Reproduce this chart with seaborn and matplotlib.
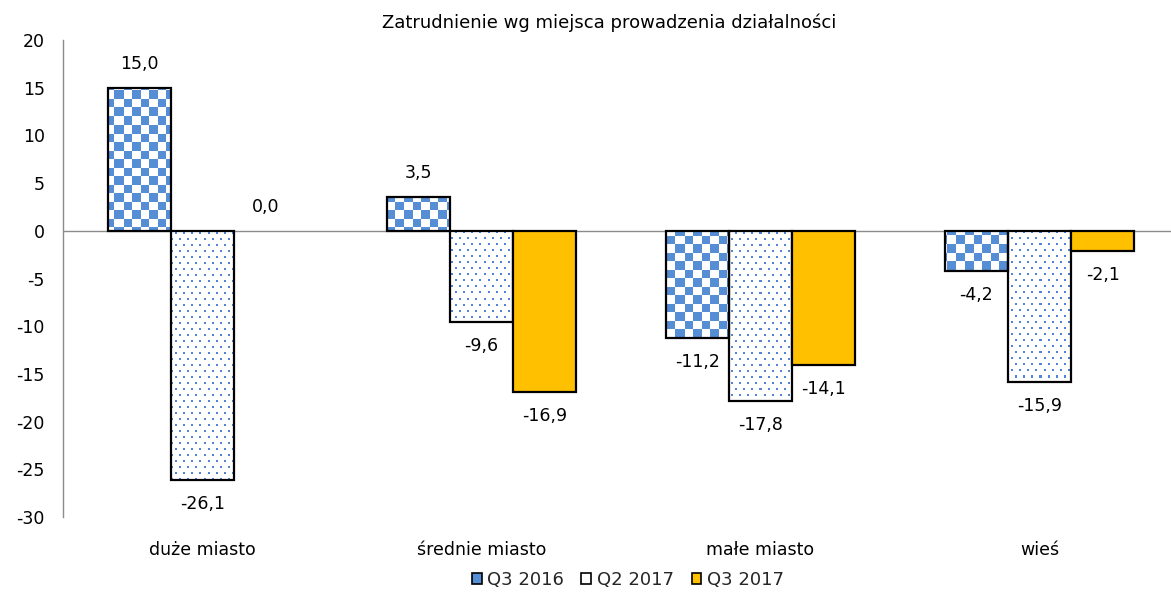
import numpy as np
import pandas as pd
import matplotlib
matplotlib.use("Agg")
import matplotlib.pyplot as plt
import seaborn as sns
from matplotlib.patches import Patch

# ---- data ----
categories = ["duże miasto", "średnie miasto", "małe miasto", "wieś"]
series = ["Q3 2016", "Q2 2017", "Q3 2017"]
q3_2016 = [15.0, 3.5, -11.2, -4.2]
q2_2017 = [-26.1, -9.6, -17.8, -15.9]
q3_2017 = [0.0, -16.9, -14.1, -2.1]
y_ticks = list(range(-30, 25, 5))
title = "Zatrudnienie wg miejsca prowadzenia działalności"

# ---- style ----
BLUE = (85, 142, 213)
DOT_BLUE = (80, 132, 212)
ORANGE = "#FFC000"
AXIS_GRAY = "#8C8C8C"
FS = 12.5
W_PX, H_PX = 1171, 603
AX_L, AX_T, AX_B = 63, 40, 517
CAT_STEP = 279
LABEL_OFF = 24  # px from bar end to label centre

sns.set_theme(style="white")
plt.rcParams["font.family"] = ["DejaVu Sans"]

df = pd.DataFrame({
    "cat": categories * 3,
    "series": [s for s in series for _ in categories],
    "val": q3_2016 + q2_2017 + q3_2017,
})

fig = plt.figure(figsize=(W_PX / 100, H_PX / 100), dpi=100)
ax_w = W_PX - AX_L
ax_h = AX_B - AX_T
ax = fig.add_axes([AX_L / W_PX, 1 - AX_B / H_PX, ax_w / W_PX, ax_h / H_PX])

sns.barplot(data=df, x="cat", y="val", hue="series", hue_order=series,
            order=categories, palette=["white", "white", ORANGE],
            width=0.68, gap=0, edgecolor="black", linewidth=1.6,
            saturation=1, legend=False, ax=ax)

# pixel textures for the patterned series
yy, xx = np.mgrid[0:ax_h, 0:ax_w]
checker = np.full((ax_h, ax_w, 3), 255, dtype=np.uint8)
mask = ((xx // 8.5).astype(int) + (yy // 8.5).astype(int)) % 2 == 0
checker[mask] = BLUE
dots = np.full((ax_h, ax_w, 3), 255, dtype=np.uint8)
dmask = (yy % 6 < 2) & (((xx + 4 * ((yy // 6) % 2)) % 8) < 2)
dots[dmask] = DOT_BLUE
textures = [checker, dots, None]

for i, cont in enumerate(ax.containers):
    for bar in cont.patches:
        bar.set_zorder(2)
        if bar.get_height() == 0:
            bar.set_linewidth(0)
        if textures[i] is not None:
            bar.set_facecolor("none")
            im = ax.imshow(textures[i], extent=(0, 1, 0, 1), transform=ax.transAxes,
                           interpolation="nearest", aspect="auto", zorder=1.5)
            im.set_clip_path(bar)

# value labels
vals = [q3_2016, q2_2017, q3_2017]
for i, cont in enumerate(ax.containers):
    for bar, v in zip(cont.patches, vals[i]):
        xc = bar.get_x() + bar.get_width() / 2
        off = LABEL_OFF if v >= 0 else -LABEL_OFF
        ax.annotate(f"{v:.1f}".replace(".", ","), xy=(xc, v), xytext=(0, off * 0.72),
                    textcoords="offset points", ha="center", va="center",
                    fontsize=FS, color="black", zorder=5)

ax.set_xlim(-0.5, -0.5 + ax_w / CAT_STEP)
ax.set_ylim(-30, 20)
ax.axhline(0, color=AXIS_GRAY, linewidth=1.0, zorder=1)

ax.set_yticks(y_ticks)
ax.set_yticklabels([str(t) for t in y_ticks], fontsize=FS, color="black")
ax.tick_params(axis="y", length=0, pad=13)
ax.tick_params(axis="x", length=0, pad=17, labelsize=FS, labelcolor="black")
ax.set_xlabel("")
ax.set_ylabel("")
for s in ["top", "right", "bottom"]:
    ax.spines[s].set_visible(False)
ax.spines["left"].set_color(AXIS_GRAY)
ax.spines["left"].set_linewidth(1.0)
ax.grid(False)

fig.text(609 / W_PX, 1 - 23 / H_PX, title, ha="center", va="center",
         fontsize=13, color="black")

handles = [
    Patch(facecolor="#558ED5", edgecolor="black", linewidth=1.2),
    Patch(facecolor="white", edgecolor="black", linewidth=1.2),
    Patch(facecolor=ORANGE, edgecolor="black", linewidth=1.2),
]
fig.legend(handles, series, loc="center", bbox_to_anchor=(628 / W_PX, 1 - 580 / H_PX),
           ncol=3, frameon=False, fontsize=13, handlelength=0.55, handleheight=0.55,
           handletextpad=0.33, columnspacing=0.95)

fig.savefig("out.png", dpi=100)
